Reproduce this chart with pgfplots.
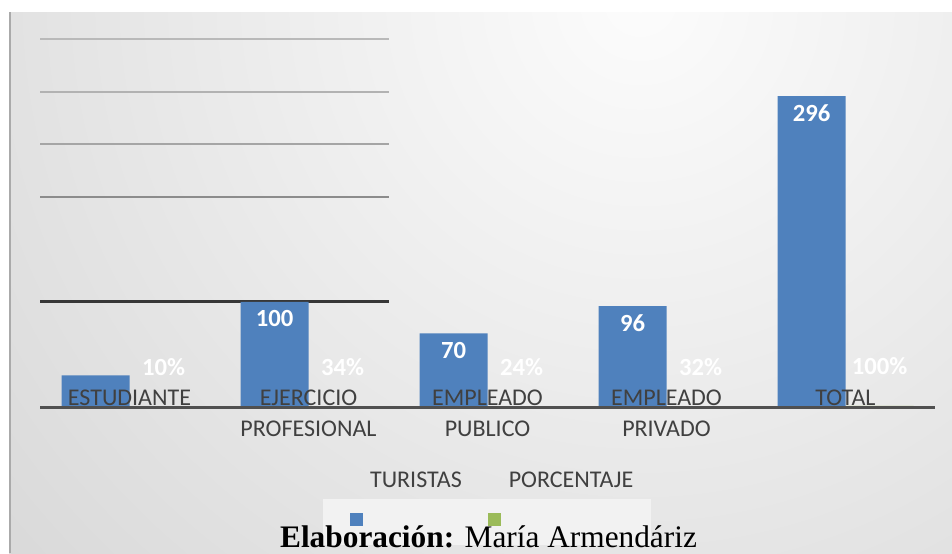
\documentclass[border=0pt]{standalone}
\usepackage{fontspec}
\setmainfont{Carlito}
\newfontfamily\tnr{Liberation Serif}
\usepackage{pgfplots}
\pgfplotsset{compat=1.18}
\definecolor{barblue}{RGB}{79,129,189}
\definecolor{bargreen}{RGB}{155,187,89}
\definecolor{txt}{RGB}{64,64,64}
\definecolor{bgin}{RGB}{252,252,252}
\definecolor{bgout}{RGB}{200,200,200}
\definecolor{legbox}{RGB}{242,242,242}
\begin{document}
\begin{tikzpicture}
\useasboundingbox (0,0) rectangle (714pt,-414.75pt);
\fill[white] (0,0) rectangle (714pt,-414.75pt);
\begin{scope}
\clip (6.75pt,-9pt) rectangle (714pt,-414.75pt);
\fill[bgout] (0,0) rectangle (714pt,-414.75pt);
\shade[inner color=bgin, outer color=bgout] (480pt,0pt) circle (945pt);
\end{scope}
\draw[line width=1.2pt, color={rgb,255:red,170;green,170;blue,170}] (7.4pt,-9pt) -- (7.4pt,-414.75pt);
\fill[legbox] (242.25pt,-374.25pt) rectangle (488.25pt,-408.75pt);
\begin{axis}[
  at={(30pt,-305.25pt)}, anchor=south west,
  scale only axis, width=671.25pt, height=296.25pt,
  xmin=-0.5, xmax=4.5, ymin=0, ymax=376,
  ybar, bar width=51pt,
  axis x line*=bottom, axis y line=none,
  axis line style={line width=2.25pt, color={rgb,255:red,80;green,80;blue,80}},
  axis on top,
  xtick={0,1,2,3,4},
  xticklabels={ESTUDIANTE, EJERCICIO\\PROFESIONAL, EMPLEADO\\PUBLICO, EMPLEADO\\PRIVADO, TOTAL},
  xticklabel style={align=center, anchor=north, yshift=16pt, text=txt,
    font=\fontsize{18}{23.25}\selectfont},
  major tick length=0pt,
  clip=false,
]
\draw[line width=1.5pt, color={rgb,255:red,185;green,185;blue,185}] (axis cs:-0.5,350) -- (axis cs:1.45,350);
\draw[line width=1.5pt, color={rgb,255:red,178;green,178;blue,178}] (axis cs:-0.5,300) -- (axis cs:1.45,300);
\draw[line width=1.5pt, color={rgb,255:red,165;green,165;blue,165}] (axis cs:-0.5,250) -- (axis cs:1.45,250);
\draw[line width=1.5pt, color={rgb,255:red,140;green,140;blue,140}] (axis cs:-0.5,200) -- (axis cs:1.45,200);
\draw[line width=2.25pt, color={rgb,255:red,55;green,55;blue,55}] (axis cs:-0.5,100) -- (axis cs:1.45,100);
\addplot[bar shift=-25.5pt, fill=barblue, draw=none,
  point meta=explicit symbolic, nodes near coords={\textbf{\pgfplotspointmeta}},
  every node near coord/.append style={anchor=north, inner sep=0pt, yshift=-6.4pt,
    text=white, font=\fontsize{18.5}{21}\selectfont}]
  coordinates {(0,30) [{}] (1,100) [100] (2,70) [70] (3,96) [96] (4,296) [296]};
\addplot[bar shift=25.5pt, fill=bargreen, draw=none,
  point meta=explicit symbolic, nodes near coords={\textbf{\pgfplotspointmeta}},
  every node near coord/.append style={anchor=center, inner sep=0pt, yshift=30pt,
    text=white, font=\fontsize{18.5}{21}\selectfont}]
  coordinates {(0,0.10) [10\%] (1,0.34) [34\%] (2,0.24) [24\%] (3,0.32) [32\%] (4,1.00) [100\%]};
\end{axis}
\node[text=txt, font=\fontsize{18}{22}\selectfont] at (312pt,-360pt) {TURISTAS};
\node[text=txt, font=\fontsize{18}{22}\selectfont] at (428.25pt,-360pt) {PORCENTAJE};
\fill[barblue] (262.5pt,-384.75pt) rectangle (272.25pt,-394.5pt);
\fill[bargreen] (366pt,-384.75pt) rectangle (375.75pt,-394.5pt);
\node[anchor=base, inner sep=0pt, font=\tnr\fontsize{23.5}{28}\selectfont] at (366.4pt,-410.25pt)
  {\textbf{Elaboración:} María Armendáriz};
\end{tikzpicture}
\end{document}
